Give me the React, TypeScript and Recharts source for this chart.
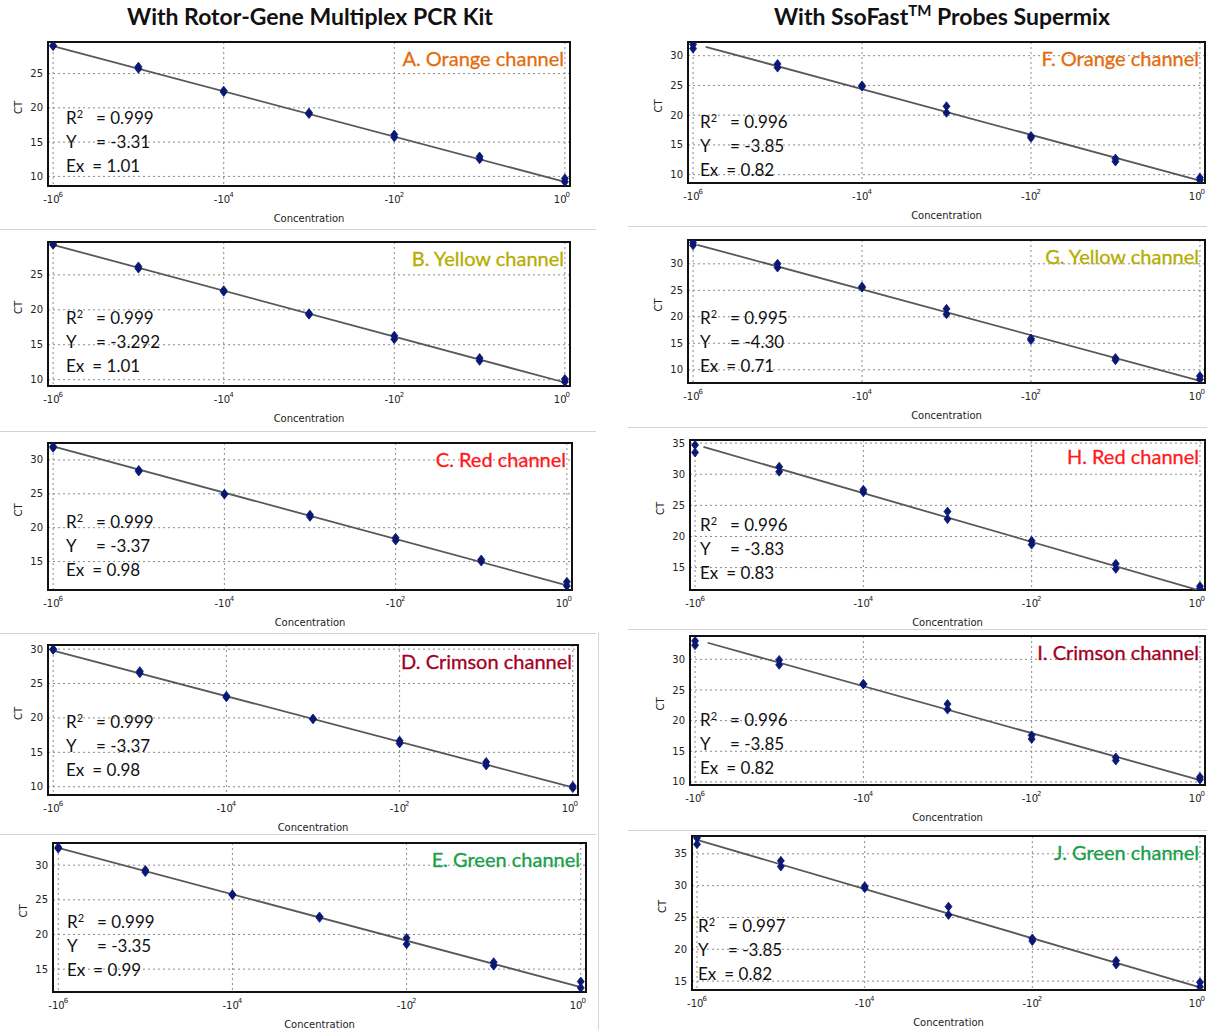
import { ComposedChart, Scatter, Line, XAxis, YAxis, CartesianGrid, ReferenceArea } from "recharts";

// dilution steps (x positions) and the labelled ones
const xTicks = [0, 2, 4, 6];
const xTickBase = ["-10", "-10", "-10", "10"];
const xTickPow = ["6", "4", "2", "0"];

// CT replicates per dilution step (step 0..6)
const ctA = [[29.0, 29.1], [25.7, 26.0], [22.3, 22.5], [19.1, 19.3], [15.7, 16.1], [12.5, 12.9], [9.2, 9.7]];
const ctB = [[29.3, 29.4], [25.9, 26.2], [22.6, 22.8], [19.3, 19.5], [15.8, 16.3], [12.7, 13.1], [9.7, 10.1]];
const ctC = [[31.8, 32.0], [28.3, 28.5], [24.9, 25.0], [21.6, 21.9], [18.1, 18.5], [15.0, 15.3], [11.4, 12.0]];
const ctD = [[29.9, 30.0], [26.5, 26.8], [23.0, 23.2], [19.8, 19.9], [16.3, 16.7], [13.1, 13.6], [9.8, 10.1]];
const ctE = [[32.4, 32.6], [29.0, 29.3], [25.7, 25.8], [22.4, 22.6], [18.6, 19.5], [15.5, 16.0], [12.3, 13.2]];
const ctF = [[31.2, 31.9], [28.0, 28.6], [24.8, 25.0], [20.4, 21.5], [16.2, 16.5], [12.2, 12.7], [9.1, 9.5]];
const ctG = [[33.5, 34.0], [29.3, 30.0], [25.5, 25.7], [20.5, 21.5], [15.6, 15.9], [11.8, 12.2], [8.2, 8.8]];
const ctH = [[33.5, 34.7], [30.4, 31.2], [27.1, 27.5], [22.8, 24.0], [18.7, 19.3], [14.8, 15.6], [11.6, 12.0]];
const ctI = [[32.3, 33.0], [29.1, 29.9], [25.9, 26.0], [21.8, 22.7], [17.0, 17.6], [13.5, 14.0], [10.4, 10.8]];
const ctJ = [[36.5, 37.5], [33.0, 33.9], [29.6, 29.9], [25.4, 26.7], [21.3, 21.7], [17.6, 18.2], [14.1, 14.8]];

// standard curve end points [step, CT]
const fitA = [[0, 29.0], [6, 9.2]];
const fitB = [[0, 29.3], [6, 9.6]];
const fitC = [[0, 32.0], [6, 11.5]];
const fitD = [[0, 29.8], [6, 9.9]];
const fitE = [[0, 32.5], [6, 12.4]];
const fitF = [[0.15, 31.5], [6, 9.0]];
const fitG = [[0.05, 33.6], [6, 7.9]];
const fitH = [[0.1, 34.4], [6, 11.3]];
const fitI = [[0.15, 32.7], [6, 10.3]];
const fitJ = [[0, 37.2], [6, 14.0]];

// R², slope, efficiency
const statsA = ["0.999", "-3.31", "1.01"];
const statsB = ["0.999", "-3.292", "1.01"];
const statsC = ["0.999", "-3.37", "0.98"];
const statsD = ["0.999", "-3.37", "0.98"];
const statsE = ["0.999", "-3.35", "0.99"];
const statsF = ["0.996", "-3.85", "0.82"];
const statsG = ["0.995", "-4.30", "0.71"];
const statsH = ["0.996", "-3.83", "0.83"];
const statsI = ["0.996", "-3.85", "0.82"];
const statsJ = ["0.997", "-3.85", "0.82"];

const ORANGE = "#e46c0a";
const YELLOW = "#b5ad00";
const RED = "#ff1a1a";
const CRIMSON = "#a3001e";
const GREEN = "#17a048";

const X_DOMAIN: [number, number] = [-0.06, 6.06];

const panels = [
  { label: "A. Orange channel", color: ORANGE, ct: ctA, fit: fitA, stats: statsA, yDomain: [8.6, 29.6], yTicks: [10, 15, 20, 25], box: { x: 48, y: 42, w: 522, h: 144 }, st: 76, sl: 18 },
  { label: "B. Yellow channel", color: YELLOW, ct: ctB, fit: fitB, stats: statsB, yDomain: [9.1, 29.7], yTicks: [10, 15, 20, 25], box: { x: 48, y: 242, w: 522, h: 144 }, st: 76, sl: 18 },
  { label: "C. Red channel", color: RED, ct: ctC, fit: fitC, stats: statsC, yDomain: [10.8, 32.5], yTicks: [15, 20, 25, 30], box: { x: 48, y: 443, w: 524, h: 147 }, st: 79, sl: 18 },
  { label: "D. Crimson channel", color: CRIMSON, ct: ctD, fit: fitD, stats: statsD, yDomain: [8.8, 30.6], yTicks: [10, 15, 20, 25, 30], box: { x: 48, y: 645, w: 530, h: 150 }, st: 77, sl: 18 },
  { label: "E. Green channel", color: GREEN, ct: ctE, fit: fitE, stats: statsE, yDomain: [11.7, 33.2], yTicks: [15, 20, 25, 30], box: { x: 53, y: 843, w: 533, h: 149 }, st: 79, sl: 14 },
  { label: "F. Orange channel", color: ORANGE, ct: ctF, fit: fitF, stats: statsF, yDomain: [8.6, 32.3], yTicks: [10, 15, 20, 25, 30], box: { x: 688, y: 42, w: 517, h: 141 }, st: 80, sl: 12 },
  { label: "G. Yellow channel", color: YELLOW, ct: ctG, fit: fitG, stats: statsG, yDomain: [7.5, 34.5], yTicks: [10, 15, 20, 25, 30], box: { x: 688, y: 240, w: 517, h: 143 }, st: 78, sl: 12 },
  { label: "H. Red channel", color: RED, ct: ctH, fit: fitH, stats: statsH, yDomain: [11.4, 35.5], yTicks: [15, 20, 25, 30, 35], box: { x: 690, y: 440, w: 515, h: 150 }, st: 85, sl: 10 },
  { label: "I. Crimson channel", color: CRIMSON, ct: ctI, fit: fitI, stats: statsI, yDomain: [9.5, 33.8], yTicks: [10, 15, 20, 25, 30], box: { x: 690, y: 636, w: 515, h: 149 }, st: 84, sl: 10 },
  { label: "J. Green channel", color: GREEN, ct: ctJ, fit: fitJ, stats: statsJ, yDomain: [13.6, 37.8], yTicks: [15, 20, 25, 30, 35], box: { x: 692, y: 836, w: 513, h: 154 }, st: 90, sl: 6 },
];

const Y_AXIS_W = 42;
const X_AXIS_H = 38;
const axisFont = { fontFamily: "DejaVu Sans, sans-serif", fontSize: 10, fill: "#222" };
const textFont = "Lato, 'Open Sans', sans-serif";

const Diamond = (props: any) => {
  const { cx, cy } = props;
  if (cx == null || cy == null) return null;
  return (
    <path
      d={`M${cx},${cy - 4.5}L${cx + 3.5},${cy}L${cx},${cy + 4.5}L${cx - 3.5},${cy}Z`}
      fill="#0a1873"
      stroke="#0a1873"
      strokeWidth={0.8}
      strokeLinejoin="round"
    />
  );
};

const ConcTick = (props: any) => {
  const { x, y, payload } = props;
  const i = xTicks.indexOf(payload.value);
  if (i < 0) return null;
  // the last label sits against the frame edge, nudge it inward a little
  const nudge = i === xTicks.length - 1 ? -3 : 0;
  return (
    <text x={x + nudge} y={y + 9} textAnchor="middle" {...axisFont}>
      <tspan>{xTickBase[i]}</tspan>
      <tspan dx={-1} dy={-6} fontSize={7}>{xTickPow[i]}</tspan>
    </text>
  );
};

const Panel = ({ p }: { p: (typeof panels)[number] }) => {
  const pts = p.ct.flatMap((reps, step) => reps.map((v) => ({ x: step, y: v })));
  const fitPts = p.fit.map(([x, y]) => ({ x, y }));
  const { box } = p;
  return (
    <>
      <div style={{ position: "absolute", left: box.x - Y_AXIS_W, top: box.y - 2 }}>
        <ComposedChart
          width={box.w + Y_AXIS_W + 2}
          height={box.h + 2 + X_AXIS_H}
          margin={{ top: 2, right: 2, left: 0, bottom: 0 }}
        >
          <CartesianGrid stroke="#8a8a8a" strokeDasharray="2 3" />
          <XAxis
            type="number"
            dataKey="x"
            domain={X_DOMAIN}
            ticks={xTicks}
            allowDataOverflow
            axisLine={false}
            tickLine={false}
            height={X_AXIS_H}
            tick={<ConcTick />}
            label={{ value: "Concentration", position: "insideBottom", offset: 2, style: axisFont }}
          />
          <YAxis
            type="number"
            dataKey="y"
            domain={p.yDomain}
            ticks={p.yTicks}
            allowDataOverflow
            axisLine={false}
            tickLine={false}
            tickSize={2}
            tickMargin={3}
            width={Y_AXIS_W}
            tick={axisFont}
            label={{ value: "CT", angle: -90, position: "insideLeft", offset: 12, style: axisFont }}
          />
          <ReferenceArea
            x1={X_DOMAIN[0]}
            x2={X_DOMAIN[1]}
            y1={p.yDomain[0]}
            y2={p.yDomain[1]}
            fill="none"
            fillOpacity={0}
            stroke="#111"
            strokeWidth={2}
            ifOverflow="visible"
          />
          <Line
            data={fitPts}
            dataKey="y"
            type="linear"
            stroke="#585858"
            strokeWidth={1.8}
            dot={false}
            isAnimationActive={false}
          />
          <Scatter data={pts} dataKey="y" shape={<Diamond />} isAnimationActive={false} />
        </ComposedChart>
      </div>
      <div
        style={{
          position: "absolute",
          left: box.x,
          width: box.w - 6,
          top: box.y + 4,
          textAlign: "right",
          fontFamily: textFont,
          fontSize: 20,
          lineHeight: "24px",
          color: p.color,
          WebkitTextStroke: "0.3px " + p.color,
        }}
      >
        {p.label}
      </div>
      <div
        style={{
          position: "absolute",
          left: box.x + p.sl,
          top: box.y + p.st - 12,
          fontFamily: textFont,
          fontSize: 17,
          lineHeight: "24px",
          color: "#111",
        }}
      >
        <div>
          <span style={{ display: "inline-block", width: 30 }}>
            R<sup style={{ fontSize: 11, verticalAlign: "6px", lineHeight: 0 }}>2</sup>
          </span>
          = {p.stats[0]}
        </div>
        <div>
          <span style={{ display: "inline-block", width: 30 }}>Y</span>= {p.stats[1]}
        </div>
        <div>
          <span style={{ display: "inline-block", width: 22 }}>Ex</span> = {p.stats[2]}
        </div>
      </div>
    </>
  );
};

const sepStyle = { position: "absolute" as const, background: "#d4d4d4" };
const titleStyle = {
  position: "absolute" as const,
  top: 2,
  textAlign: "center" as const,
  fontFamily: textFont,
  fontWeight: 700,
  fontSize: 23,
  color: "#111",
};

export default function App() {
  return (
    <div style={{ position: "absolute", left: 0, top: 0, width: 1207, height: 1030, background: "#fff", overflow: "hidden" }}>
      <div style={{ ...titleStyle, left: 0, width: 620 }}>With Rotor-Gene Multiplex PCR Kit</div>
      <div style={{ ...titleStyle, left: 640, width: 604 }}>
        With SsoFast<sup style={{ fontSize: 15, verticalAlign: "9px", lineHeight: 0 }}>TM</sup> Probes Supermix
      </div>
      {[229, 431, 633, 834].map((y) => (
        <div key={`l${y}`} style={{ ...sepStyle, left: 0, width: 596, top: y, height: 1 }} />
      ))}
      {[226, 427, 629, 830].map((y) => (
        <div key={`r${y}`} style={{ ...sepStyle, left: 628, width: 579, top: y, height: 1 }} />
      ))}
      <div style={{ ...sepStyle, left: 598, width: 1, top: 632, height: 398 }} />
      {panels.map((p) => (
        <Panel key={p.label} p={p} />
      ))}
    </div>
  );
}
